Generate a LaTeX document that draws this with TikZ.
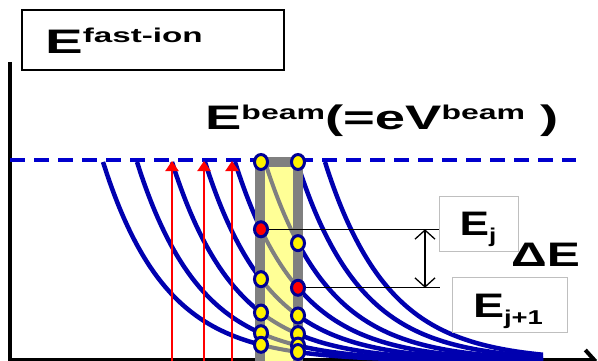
\documentclass[tikz,border=0pt]{standalone}
\usepackage{fontspec}
\setmainfont{Liberation Sans}
\usetikzlibrary{arrows.meta,shapes.geometric}
\definecolor{curveblue}{RGB}{0,0,175}
\definecolor{dashblue}{RGB}{0,0,205}
\definecolor{dotblue}{RGB}{0,0,150}
\definecolor{bandyellow}{RGB}{255,255,150}
\newcommand{\bigfs}{\fontsize{34}{36}\selectfont}
\newcommand{\smallfs}{\fontsize{20}{22}\selectfont}
\newcommand{\ecurve}[1]{361-199*exp(-(#1)/63)}

\begin{document}
\begin{tikzpicture}[x=1pt, y=-1pt, every node/.style={font=\bfseries},
  curve/.style={curveblue, line width=4.5pt},
  dot/.style={ellipse, draw=dotblue, line width=3pt, fill=yellow, minimum width=13pt, minimum height=15pt, inner sep=0pt},
  hotdot/.style={dot, fill=red},
  level/.style={black, line width=1.3pt},
  lblbox/.style={draw=black!25, line width=0.6pt, inner sep=0pt},
  beam/.style={red, line width=2pt, -{Triangle[length=10pt, width=13pt]}}]
	\useasboundingbox (0,0) rectangle (598,361);
	% axes and beam energy
	\draw[black, line width=4.5pt] (10,62) -- (10,361);
	\draw[black, line width=4pt, -{Straight Barb[length=9pt, width=20pt]}] (8,360) -- (597,360);
	\draw[dashblue, line width=4.5pt, dash pattern=on 15pt off 9pt] (10,160) -- (576,160);
	% energy curves
	\foreach \s in {103,137,172,205,235,265,297,325}
		\draw[curve] plot[domain=\s:543, samples=80, smooth] (\x, {\ecurve{\x-\s}});
	% band
	\fill[bandyellow] (255,157) rectangle (303,365);
	\begin{scope}
		\clip (265,167) rectangle (293,365);
		\foreach \s in {103,137,172,205,235,265,297}
			\draw[gray, line width=4pt] plot[domain=\s:330, samples=60, smooth] (\x, {\ecurve{\x-\s}});
	\end{scope}
	\draw[gray, line width=10pt] (260,370) -- (260,162) -- (298,162) -- (298,370);
	% beam arrows
	\foreach \x in {172,204,232}
		\draw[beam] (\x,365) -- (\x,161);
	% points on the band
	\node[dot] (l0) at (261,162) {};
	\node[hotdot] (l1) at (261,{\ecurve{261-235}}) {};
	\foreach \s/\n in {205/2,172/3,137/4,103/5}
		\node[dot] (l\n) at (261,{\ecurve{261-\s}}) {};
	\node[dot] (r0) at (298,162) {};
	\node[dot] (r1) at (298,{\ecurve{298-265}}) {};
	\node[hotdot] (r2) at (298,{\ecurve{298-235}}) {};
	\foreach \s/\n in {205/3,172/4,137/5,103/6}
		\node[dot] (r\n) at (298,{\ecurve{298-\s}}) {};
	% levels
	\coordinate (jtop) at (440,0 |- l1);
	\coordinate (jbot) at (440,0 |- r2);
	\coordinate (atop) at (425,0 |- l1);
	\coordinate (abot) at (425,0 |- r2);
	\draw[level] (l1) -- (jtop);
	\draw[level] (r2) -- (jbot);
	\draw[level, {Straight Barb[length=9pt, width=20pt]}-{Straight Barb[length=9pt, width=20pt]}] (atop) -- (abot);
	% labels
	\node[draw, line width=1.5pt, minimum width=262pt, minimum height=60pt, inner sep=0pt] (fastbox) at (153,40) {};
	\node[anchor=base west, inner sep=0pt] (fast) at (45,54) {\scalebox{1.66}[1]{\bigfs E\raisebox{11pt}{\smallfs fast-ion}}};
	\node[anchor=base west, inner sep=0pt] (ebeam) at (205,130) {\scalebox{1.6}[1]{\bigfs E\raisebox{10pt}{\smallfs beam}(=eV\raisebox{10pt}{\smallfs beam} )}};
	\node[lblbox, minimum width=79pt, minimum height=55pt] (ejbox) at (478.5,223.5) {};
	\node[anchor=base, inner sep=0pt] (ej) at (478,235) {\scalebox{1.3}[1]{\bigfs E\raisebox{-7pt}{\smallfs j}}};
	\node[lblbox, minimum width=115pt, minimum height=55pt] (ejjbox) at (509.5,304.5) {};
	\node[anchor=base, inner sep=0pt] (ejj) at (508,317) {\scalebox{1.37}[1]{\bigfs E\raisebox{-7pt}{\smallfs j+1}}};
	\node[anchor=base west, inner sep=0pt] (de) at (511,266) {\scalebox{1.46}[1]{\bigfs ΔE}};
\end{tikzpicture}
\end{document}
